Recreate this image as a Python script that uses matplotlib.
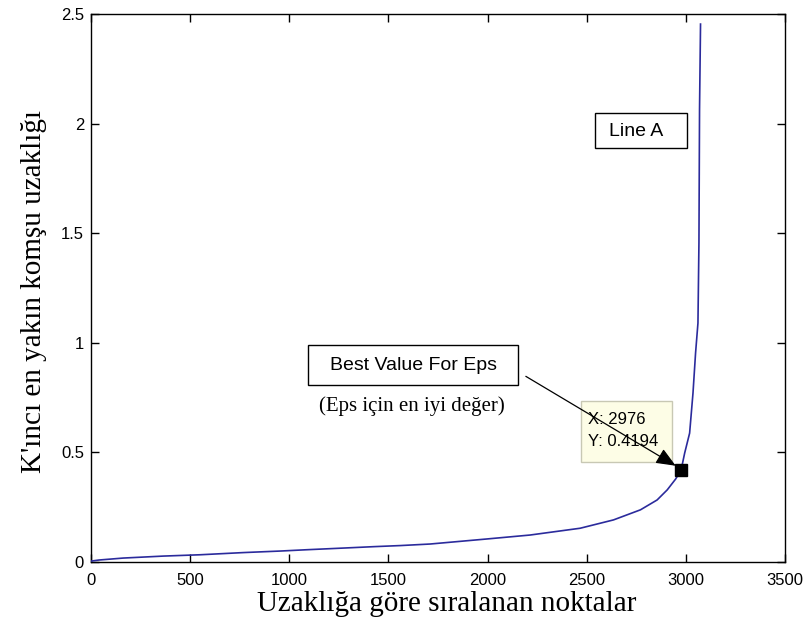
import matplotlib.pyplot as plt
from matplotlib.patches import Rectangle


#--------------------------------- data --------------------------------------------------------------

sorted_points = [0, 40, 163, 365, 550, 769, 955, 1089, 1283, 1426, 1561, 1710, 1996, 2214,
                 2467, 2635, 2771, 2855, 2906, 2948, 2976, 2994, 3019, 3036, 3049, 3061,
                 3066, 3069, 3074]
k_distance = [0.004, 0.009, 0.018, 0.027, 0.033, 0.043, 0.050, 0.056, 0.064, 0.070, 0.075,
              0.082, 0.105, 0.123, 0.154, 0.192, 0.238, 0.283, 0.329, 0.378, 0.4194, 0.497,
              0.588, 0.771, 0.954, 1.090, 1.457, 2.066, 2.454]

best_x = 2976
best_y = 0.4194

x_ticks = [0, 500, 1000, 1500, 2000, 2500, 3000, 3500]
y_ticks = [0, 0.5, 1, 1.5, 2, 2.5]
y_tick_labels = ['0', '0.5', '1', '1.5', '2', '2.5']

W, H = 808, 640
SANS = 'Liberation Sans'
SERIF = 'Liberation Serif'


def px(x, y):
    '''pixel position (from top-left) to figure fraction'''
    return x / W, 1 - y / H


def fig_box(ax, left, top, width, height, face, edge):
    '''box given in pixels, drawn inside the axes so zorder works with the arrow'''
    rect = Rectangle(px(left, top + height), width / W, height / H, transform=ax.figure.transFigure,
                     facecolor=face, edgecolor=edge, linewidth=1, clip_on=False, zorder=5)
    ax.add_patch(rect)


def fig_text(ax, x, y, s, **kw):
    ax.text(*px(x, y), s, transform=ax.figure.transFigure, clip_on=False, zorder=6, **kw)


#--------------------------------- figure -----------------------------------------------------------

fig = plt.figure(figsize=(W / 100, H / 100), dpi=100)
ax = fig.add_axes([91 / W, 1 - 562 / H, (785 - 91) / W, (562 - 14) / H])

ax.plot(sorted_points, k_distance, color='#2b2b9c', linewidth=1.2, zorder=3)
ax.plot([best_x], [best_y], marker='s', markersize=9, color='black', linestyle='none', zorder=8)

ax.set_xlim(0, 3500)
ax.set_ylim(0, 2.5)
ax.set_xticks(x_ticks)
ax.set_yticks(y_ticks)
ax.set_yticklabels(y_tick_labels)
ax.tick_params(direction='in', length=6, width=1, top=True, right=True, labelsize=12)
ax.tick_params(axis='x', pad=8)
ax.tick_params(axis='y', pad=5)
for lbl in ax.get_xticklabels() + ax.get_yticklabels():
    lbl.set_fontfamily(SANS)
for sp in ax.spines.values():
    sp.set_linewidth(1)

ax.set_xlabel('Uzaklığa göre sıralanan noktalar', fontfamily=SERIF, fontsize=21)
ax.set_ylabel("K'ıncı en yakın komşu uzaklığı", fontfamily=SERIF, fontsize=21)
ax.xaxis.set_label_coords(0.513, -0.053)
ax.yaxis.set_label_coords(-0.064, 0.494)

# datatip
fig_box(ax, 581, 401, 91, 61, '#fdfde6', '#c8c8b4')
fig_text(ax, 588, 420, 'X: 2976', fontfamily=SANS, fontsize=12, va='center')
fig_text(ax, 588, 441, 'Y: 0.4194', fontfamily=SANS, fontsize=12, va='center')

# Line A box
fig_box(ax, 595, 113, 92, 35, 'white', 'black')
fig_text(ax, 636, 131, 'Line A', fontfamily=SANS, fontsize=14, ha='center', va='center')

# Best value box
fig_box(ax, 308, 345, 210, 40, 'white', 'black')
fig_text(ax, 413, 365, 'Best Value For Eps', fontfamily=SANS, fontsize=14,
         ha='center', va='center')
fig_text(ax, 412, 406, '(Eps için en iyi değer)', fontfamily=SERIF, fontsize=15,
         ha='center', va='center')

ax.annotate('', xy=(2949, 0.439), xytext=(2193, 0.847), xycoords='data', zorder=7,
            arrowprops=dict(arrowstyle='-|>,head_length=1.2,head_width=0.5',
                            color='black', linewidth=0.9, shrinkA=0, shrinkB=0))

fig.savefig('out.png', dpi=100)
